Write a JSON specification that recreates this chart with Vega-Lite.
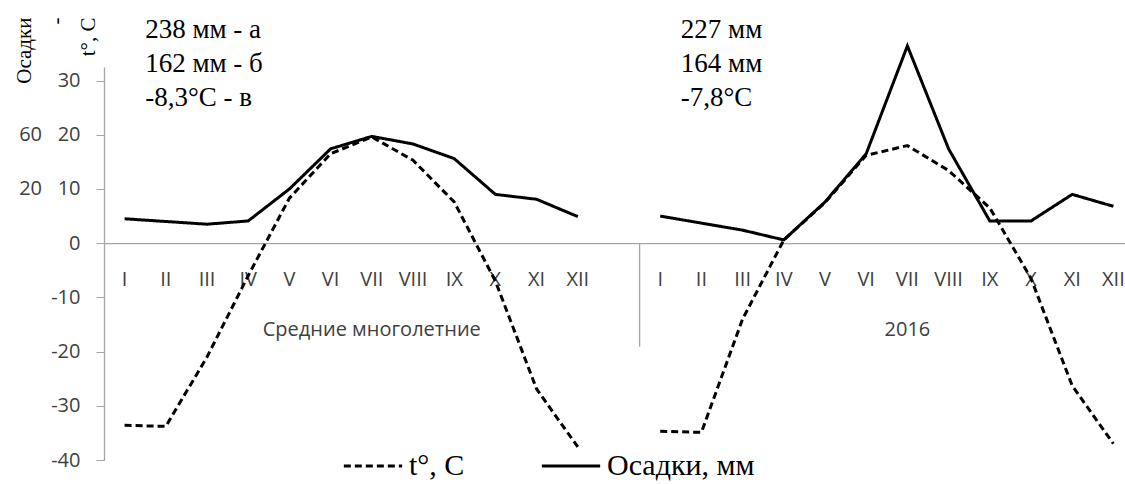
{
  "$schema": "https://vega.github.io/schema/vega-lite/v6.json",
  "autosize": "none",
  "width": 1021,
  "height": 393,
  "padding": {"left": 104, "top": 67, "right": 0, "bottom": 24},
  "background": "white",
  "config": {"view": {"stroke": null}, "font": "Open Sans"},
  "datasets": {
    "months": [
      {"period": "Средние многолетние", "key": "1 I", "t": -33.6, "o": 4.5},
      {"period": "Средние многолетние", "key": "1 II", "t": -33.8, "o": 4.0},
      {"period": "Средние многолетние", "key": "1 III", "t": -21.0, "o": 3.5},
      {"period": "Средние многолетние", "key": "1 IV", "t": -6.0, "o": 4.1},
      {"period": "Средние многолетние", "key": "1 V", "t": 8.3, "o": 10.0},
      {"period": "Средние многолетние", "key": "1 VI", "t": 16.5, "o": 17.4},
      {"period": "Средние многолетние", "key": "1 VII", "t": 19.6, "o": 19.7},
      {"period": "Средние многолетние", "key": "1 VIII", "t": 15.3, "o": 18.3},
      {"period": "Средние многолетние", "key": "1 IX", "t": 7.6, "o": 15.6},
      {"period": "Средние многолетние", "key": "1 X", "t": -7.0, "o": 9.0},
      {"period": "Средние многолетние", "key": "1 XI", "t": -26.9, "o": 8.1},
      {"period": "Средние многолетние", "key": "1 XII", "t": -37.6, "o": 4.9},
      {"period": "2016", "key": "2 I", "t": -34.7, "o": 5.0},
      {"period": "2016", "key": "2 II", "t": -34.9, "o": 3.7},
      {"period": "2016", "key": "2 III", "t": -14.0, "o": 2.4},
      {"period": "2016", "key": "2 IV", "t": 0.6, "o": 0.6},
      {"period": "2016", "key": "2 V", "t": 7.5, "o": 7.6},
      {"period": "2016", "key": "2 VI", "t": 16.2, "o": 16.5},
      {"period": "2016", "key": "2 VII", "t": 18.0, "o": 36.4},
      {"period": "2016", "key": "2 VIII", "t": 13.4, "o": 17.4},
      {"period": "2016", "key": "2 IX", "t": 6.5, "o": 4.1},
      {"period": "2016", "key": "2 X", "t": -6.5, "o": 4.1},
      {"period": "2016", "key": "2 XI", "t": -26.3, "o": 9.0},
      {"period": "2016", "key": "2 XII", "t": -37.0, "o": 6.8}
    ],
    "groups": [
      {"label": "Средние многолетние", "key": "1 VII"},
      {"label": "2016", "key": "2 VII"}
    ],
    "notes": [
      {"key": "1 II", "text": ["238 мм - а", "162 мм - б", "-8,3°C - в"]},
      {"key": "2 II", "text": ["227 мм", "164 мм", "-7,8°C"]}
    ]
  },
  "layer": [
    {
      "data": {"name": "months"},
      "mark": {"type": "line", "color": "black", "strokeWidth": 3},
      "encoding": {
        "x": {
          "field": "key", "type": "nominal", "sort": null, "bandPosition": 0.5,
          "scale": {
            "type": "band",
            "domain": ["1 I","1 II","1 III","1 IV","1 V","1 VI","1 VII","1 VIII","1 IX","1 X","1 XI","1 XII","1 ","2 I","2 II","2 III","2 IV","2 V","2 VI","2 VII","2 VIII","2 IX","2 X","2 XI","2 XII"],
            "range": [0, 1030], "paddingInner": 0, "paddingOuter": 0
          },
          "axis": {
            "title": null, "offset": -216.8, "ticks": false,
            "domainColor": "#a6a6a6", "domainWidth": 1.3,
            "labelExpr": "split(datum.value, ' ')[1]",
            "labelAngle": 0, "labelFontSize": 20, "labelColor": "#404040",
            "labelPadding": 26, "labelFont": "Open Sans"
          }
        },
        "y": {
          "field": "t", "type": "quantitative",
          "scale": {"domain": [-40, 32.5], "nice": false, "zero": false},
          "axis": {
            "values": [-40, -30, -20, -10, 0, 10, 20, 30],
            "grid": false, "tickSize": 8, "labelPadding": 16,
            "domainColor": "#a6a6a6", "tickColor": "#a6a6a6", "domainWidth": 1.3,
            "labelFontSize": 20, "labelColor": "#404040", "labelFont": "Open Sans",
            "labelExpr": "datum.value == 20 ? '60\u00a0\u00a0\u00a020' : datum.value == 10 ? '20\u00a0\u00a0\u00a010' : '' + datum.value",
            "title": ["Осадки", "-", "t°, C"],
            "titleFont": "Liberation Serif", "titleFontSize": 21, "titleFontWeight": "normal",
            "titleColor": "black", "titleAngle": -90, "titleAlign": "right",
            "titleBaseline": "top", "titleLineHeight": 32, "titleX": -91, "titleY": -50
          }
        },
        "strokeDash": {
          "datum": "t°, C", "type": "nominal",
          "scale": {"domain": ["t°, C", "Осадки, мм"], "range": [[7, 4], [1, 0]]},
          "legend": {
            "title": null, "orient": "none", "direction": "horizontal",
            "legendX": 238, "legendY": 368,
            "labelFont": "Liberation Serif", "labelFontSize": 30, "labelColor": "black",
            "symbolType": "stroke", "symbolSize": 3400, "symbolStrokeWidth": 3,
            "symbolStrokeColor": "black", "columnPadding": 70, "labelOffset": 5
          }
        },
        "detail": {"field": "period"}
      }
    },
    {
      "data": {"name": "months"},
      "mark": {"type": "line", "color": "black", "strokeWidth": 3},
      "encoding": {
        "x": {"field": "key", "type": "nominal", "sort": null, "bandPosition": 0.5},
        "y": {"field": "o", "type": "quantitative"},
        "strokeDash": {"datum": "Осадки, мм", "type": "nominal"},
        "detail": {"field": "period"}
      }
    },
    {
      "data": {"values": [{"key": "2 I"}]},
      "mark": {"type": "rule", "color": "#a6a6a6", "strokeWidth": 1.3},
      "encoding": {
        "x": {"field": "key", "type": "nominal", "bandPosition": 0},
        "y": {"datum": 0},
        "y2": {"datum": -19.1}
      }
    },
    {
      "data": {"name": "groups"},
      "mark": {"type": "text", "fontSize": 20, "color": "#404040", "font": "Open Sans", "baseline": "middle", "align": "center"},
      "encoding": {
        "x": {"field": "key", "type": "nominal", "bandPosition": 0.5},
        "y": {"datum": -16},
        "text": {"field": "label"}
      }
    },
    {
      "data": {"name": "notes"},
      "mark": {"type": "text", "fontSize": 27, "color": "black", "font": "Liberation Serif", "baseline": "alphabetic", "align": "left", "lineHeight": 34},
      "encoding": {
        "x": {"field": "key", "type": "nominal", "bandPosition": 0},
        "y": {"datum": 37.9},
        "text": {"field": "text"}
      }
    }
  ]
}
